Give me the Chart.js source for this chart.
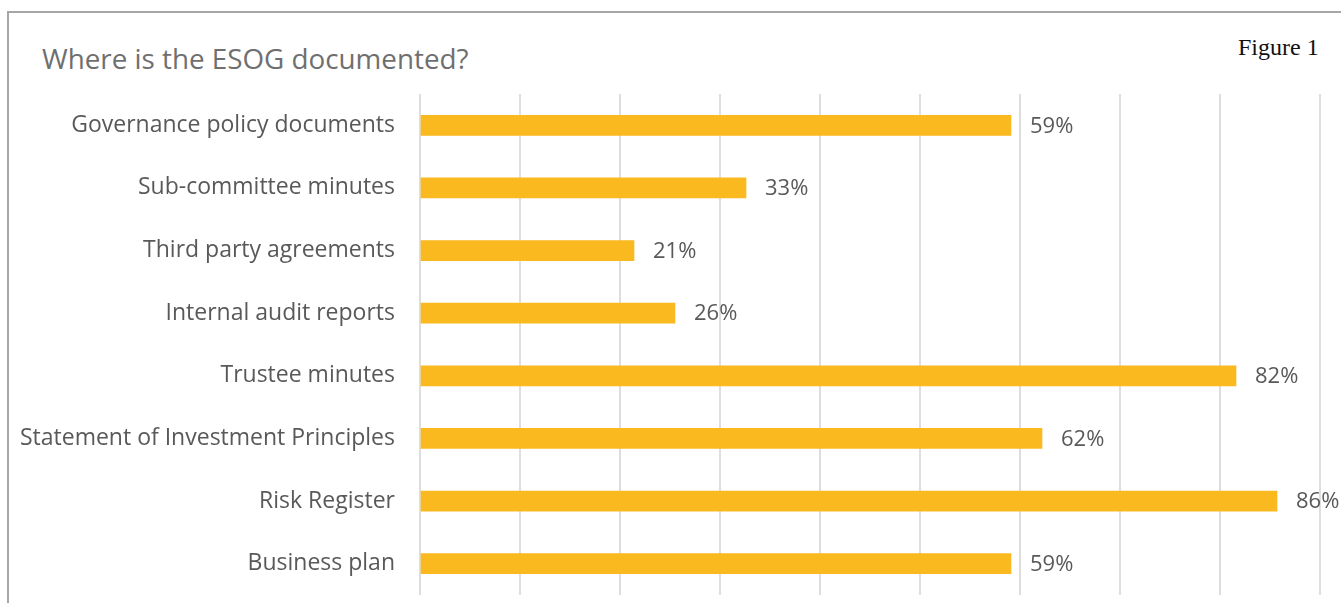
<!DOCTYPE html>
<html>
<head>
<meta charset="utf-8">
<script src="https://cdn.jsdelivr.net/npm/chart.js@4"></script>
<style>
  html, body { margin: 0; padding: 0; background: #fff; }
  #wrap { position: relative; width: 1341px; height: 603px; overflow: hidden; }
  #frame { position: absolute; left: 7px; top: 11px; width: 1400px; height: 700px; border: 2px solid #a6a6a6; box-sizing: border-box; }
  #title { position: absolute; left: 42px; top: 39px; font-family: 'Open Sans', sans-serif; font-size: 27.8px; color: #6f6f6f; white-space: nowrap; }
  #fig { position: absolute; left: 1238px; top: 34px; font-family: 'Liberation Serif', serif; font-size: 24px; color: #111; white-space: nowrap; }
  canvas { position: absolute; left: 0; top: 0; }
</style>
</head>
<body>
<div id="wrap">
  <div id="frame"></div>
  <div id="title">Where is the ESOG documented?</div>
  <div id="fig">Figure 1</div>
  <canvas id="chart" width="1341" height="603"></canvas>
</div>
<script>
// Data
const categories = [
    'Governance policy documents',
    'Sub-committee minutes',
    'Third party agreements',
    'Internal audit reports',
    'Trustee minutes',
    'Statement of Investment Principles',
    'Risk Register',
    'Business plan'
]
const values = [59.1, 32.6, 21.4, 25.5, 81.6, 62.2, 85.7, 59.1]
const valueLabels = ['59%', '33%', '21%', '26%', '82%', '62%', '86%', '59%']

const textColor = '#595959'
const labelFont = { family: "'Open Sans', sans-serif", size: 22 }
const catFont = { family: "'Open Sans', sans-serif", size: 23 }

// draws the % label just after each bar
const barLabels = {
    id: 'barLabels',
    afterDatasetsDraw(chart) {
        const ctx = chart.ctx
        const meta = chart.getDatasetMeta(0)
        ctx.save()
        ctx.font = `${labelFont.size}px ${labelFont.family}`
        ctx.fillStyle = textColor
        ctx.textAlign = 'left'
        ctx.textBaseline = 'middle'
        meta.data.forEach((bar, i) => {
            ctx.fillText(valueLabels[i], bar.x + 19, bar.y + 1)
        })
        ctx.restore()
    }
}

new Chart(document.getElementById('chart'), {
    type: 'bar',
    data: {
        labels: categories,
        datasets: [{
            data: values,
            backgroundColor: '#fab91e',
            barThickness: 20
        }]
    },
    options: {
        indexAxis: 'y',
        responsive: false,
        animation: false,
        layout: { padding: { top: 94, bottom: 8, right: 21, left: 0 } },
        plugins: {
            legend: { display: false },
            tooltip: { enabled: false }
        },
        scales: {
            x: {
                min: 0,
                max: 90,
                afterFit(scale) { scale.height = 0 },
                ticks: { display: false, stepSize: 10 },
                grid: { color: '#dedede', lineWidth: 2, drawTicks: false },
                border: { display: false }
            },
            y: {
                afterFit(scale) {
                    scale.width = 420
                    // tick padding would otherwise eat space above/below the plot
                    scale.paddingTop = 0
                    scale.paddingBottom = 0
                },
                ticks: { color: textColor, font: catFont, padding: 25 },
                grid: { display: false, drawTicks: false },
                border: { display: false }
            }
        }
    },
    plugins: [barLabels]
})
</script>
</body>
</html>
